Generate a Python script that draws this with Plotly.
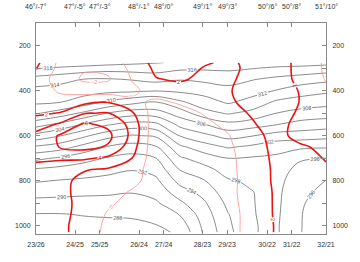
import numpy as np
import plotly.graph_objects as go

# horizontal position of grid columns (distance units along the section)
x_cols = [0, 25, 50, 75, 100, 125, 150, 175, 200, 225, 250, 275, 302]
# pressure levels (hPa)
p_levels = [275, 300, 350, 400, 450, 500, 550, 600, 650, 700, 750, 800, 850, 900, 950, 1000, 1030]

# potential temperature (K), one list per column, top -> bottom
theta_cols = [
    [319.8, 318.2, 315.1, 313.4, 312.4, 310.2, 306.8, 303.4, 299.7, 296.5, 293.8, 292.2, 290.8, 289.3, 287.9, 287.3, 287.0],
    [319.3, 317.7, 314.6, 313.2, 312.1, 309.1, 305.5, 302.1, 298.9, 295.7, 293.4, 291.9, 290.6, 289.3, 287.9, 287.3, 287.0],
    [319.1, 317.3, 313.9, 312.8, 311.1, 307.6, 303.8, 300.4, 297.3, 294.7, 293.0, 291.7, 290.4, 289.3, 288.1, 287.4, 287.0],
    [318.8, 316.9, 313.8, 312.5, 309.7, 305.9, 302.2, 298.7, 295.8, 293.8, 292.6, 291.4, 290.3, 289.3, 288.2, 287.5, 287.0],
    [318.4, 317.0, 314.1, 312.4, 308.7, 304.9, 301.2, 297.8, 295.1, 293.3, 292.1, 291.1, 290.1, 289.2, 288.3, 287.5, 287.2],
    [318.1, 317.0, 314.6, 312.1, 308.0, 305.1, 301.5, 298.3, 295.8, 294.0, 292.7, 291.6, 290.7, 289.7, 288.7, 287.9, 287.6],
    [317.8, 316.4, 314.1, 312.4, 309.7, 306.9, 304.6, 302.1, 299.6, 297.7, 296.1, 294.7, 293.1, 291.6, 290.1, 288.9, 288.25],
    [317.2, 316.3, 314.4, 312.8, 311.1, 309.3, 305.9, 303.5, 301.1, 299.0, 297.3, 295.9, 294.7, 293.7, 293.0, 292.5, 292.3],
    [317.3, 316.4, 314.7, 313.4, 312.3, 310.2, 307.4, 304.7, 302.2, 300.0, 298.9, 297.8, 297.2, 296.5, 295.9, 295.6, 295.4],
    [317.2, 316.1, 314.1, 312.8, 311.3, 309.4, 306.9, 304.1, 301.6, 299.8, 299.0, 298.3, 297.95, 297.93, 297.92, 297.9, 297.9],
    [317.0, 315.7, 313.5, 311.9, 309.7, 308.0, 306.1, 303.1, 300.8, 299.6, 299.1, 298.8, 298.6, 298.5, 298.4, 298.3, 298.3],
    [316.9, 315.5, 313.0, 311.0, 309.1, 307.3, 305.3, 303.0, 300.4, 298.3, 297.3, 296.6, 296.2, 296.1, 296.05, 296.05, 296.05],
    [316.7, 315.1, 312.5, 310.4, 308.7, 307.0, 304.9, 302.7, 300.2, 298.0, 296.9, 295.95, 295.8, 295.6, 295.5, 295.4, 295.3],
]

# second field (red contours), one list per column, top -> bottom
red_cols = [
    [2.5, 2.1, 1.0, 0.8, 1.0, 1.7, 3.0, 4.6, 5.0, 4.3, 3.5, 2.8, 2.6, 2.5, 2.4, 2.3, 2.3],
    [-0.5, -0.6, -0.8, -0.2, 0.6, 2.1, 4.3, 6.2, 6.1, 4.2, 3.2, 2.4, 2.4, 2.5, 2.5, 2.4, 2.4],
    [-1.5, -1.8, -2.3, -0.8, 1.5, 3.9, 6.3, 7.2, 6.6, 4.3, 2.1, 1.6, 1.5, 1.5, 1.4, 1.3, 1.3],
    [-1.2, -1.6, -2.2, -0.9, 1.9, 4.1, 5.6, 6.5, 5.8, 3.6, 1.8, 1.2, 0.8, 0.3, -0.2, -0.5, -0.6],
    [0.8, 0.5, 0.1, -0.4, 0.4, 2.3, 3.4, 3.5, 2.9, 2.0, 1.2, 0.6, -0.2, -0.6, -0.9, -1.0, -1.0],
    [2.6, 2.4, 1.9, 0.8, -0.3, -1.2, -1.6, -1.7, -1.6, -1.4, -1.4, -1.0, -1.2, -1.3, -1.4, -1.4, -1.4],
    [3.0, 2.8, 2.2, 1.2, 0.2, -0.6, -1.0, -1.2, -1.2, -1.1, -1.0, -0.9, -0.9, -0.9, -0.9, -0.9, -0.9],
    [2.2, 1.9, 1.6, 1.1, 0.5, 0.1, -0.4, -0.7, -0.8, -0.8, -0.8, -0.7, -0.6, -0.6, -0.6, -0.6, -0.6],
    [1.7, 1.7, 1.8, 1.9, 1.8, 1.2, 0.4, -0.1, -0.3, -0.4, -0.4, -0.4, -0.3, -0.3, -0.3, -0.3, -0.3],
    [2.4, 2.3, 2.4, 2.5, 2.4, 2.2, 1.8, 1.3, 1.0, 0.8, 0.7, 0.6, 0.5, 0.4, 0.3, 0.3, 0.3],
    [3.0, 3.0, 3.0, 3.0, 3.0, 3.0, 2.9, 2.7, 2.6, 2.5, 2.4, 2.4, 2.3, 2.3, 2.3, 2.2, 2.2],
    [1.4, 1.4, 1.5, 1.9, 1.95, 1.7, 1.2, 1.3, 2.3, 2.6, 2.6, 2.6, 2.5, 2.5, 2.5, 2.5, 2.5],
    [-0.3, -0.3, -0.1, 0.4, 0.8, 1.0, 1.1, 1.3, 1.5, 1.9, 2.2, 2.3, 2.4, 2.4, 2.4, 2.4, 2.4],
]

# axis ticks
x_tick_pos = [0, 40.7, 66.3, 107.3, 133, 173.3, 199, 240.7, 266.3, 302]
top_labels = ["46°/-7°", "47°/-5°", "47°/-3°", "48°/-1°", "48°/0°",
              "49°/1°", "49°/3°", "50°/6°", "50°/8°", "51°/10°"]
bottom_labels = ["23/26", "24/25", "25/25", "26/24", "27/24",
                 "28/23", "29/23", "30/22", "31/22", "32/21"]
p_ticks = [100, 200, 300, 400, 500, 600, 700, 800, 900, 1000]
p_tick_labels = ["", "200", "", "400", "", "600", "", "800", "", "1000"]

theta = np.array(theta_cols).T
red = np.array(red_cols).T

FONT = "Liberation Sans"
TXT = "#333333"
AX = "#8a8a8a"

fig = go.Figure()

fig.add_trace(go.Contour(
    x=x_cols, y=p_levels, z=theta,
    contours=dict(coloring="lines", start=288, end=320, size=2,
                  showlabels=True, labelfont=dict(size=5.5, color="#555555", family=FONT),
                  labelformat=".0f"),
    colorscale=[[0, "#6e6e6e"], [1, "#6e6e6e"]],
    line=dict(width=0.8, smoothing=1.0),
    showscale=False, hoverinfo="skip",
))

fig.add_trace(go.Contour(
    x=x_cols, y=p_levels, z=red,
    contours=dict(coloring="lines", start=-2, end=0, size=2,
                  showlabels=True, labelfont=dict(size=5.5, color="#ff8080", family=FONT),
                  labelformat=".0f"),
    colorscale=[[0, "#ff9a9a"], [1, "#ff9a9a"]],
    line=dict(width=0.9, smoothing=1.0),
    showscale=False, hoverinfo="skip",
))

fig.add_trace(go.Contour(
    x=x_cols, y=p_levels, z=red,
    contours=dict(coloring="lines", start=2, end=6, size=2,
                  showlabels=True, labelfont=dict(size=5.5, color="#ee0000", family=FONT),
                  labelformat=".0f"),
    colorscale=[[0, "#ee1111"], [1, "#ee1111"]],
    line=dict(width=1.6, smoothing=1.0),
    showscale=False, hoverinfo="skip",
))

# dummy trace to activate top / right axes
fig.add_trace(go.Scatter(x=[None], y=[None], xaxis="x2", yaxis="y2",
                         showlegend=False, hoverinfo="skip"))

yr = [1037, 99]
xr = [0, 302]
common_x = dict(range=xr, tickvals=x_tick_pos, ticks="inside", ticklen=4,
                tickcolor=AX, showline=True, linecolor=AX, linewidth=1,
                showgrid=False, zeroline=False, color=TXT,
                tickfont=dict(size=7, color=TXT, family=FONT))
common_y = dict(range=yr, tickvals=p_ticks, ticktext=p_tick_labels,
                ticks="inside", ticklen=4, tickcolor=AX, showline=True,
                linecolor=AX, linewidth=1, showgrid=False, zeroline=False,
                color=TXT, tickfont=dict(size=7, color=TXT, family=FONT))

# top labels as annotations above the top axis
annotations = [
    dict(x=xv, y=1, xref="x", yref="paper", text=lab, showarrow=False,
         xanchor="center", yanchor="bottom", yshift=11,
         font=dict(size=7, color=TXT, family=FONT))
    for xv, lab in zip(x_tick_pos, top_labels)
]

fig.update_layout(
    width=360, height=262,
    margin=dict(l=36, r=22, t=23, b=28),
    paper_bgcolor="white", plot_bgcolor="white",
    showlegend=False,
    xaxis=dict(**common_x, ticktext=bottom_labels, ticklabelstandoff=4),
    xaxis2=dict(**common_x, ticktext=top_labels, overlaying="x", side="top",
                anchor="y", showticklabels=False),
    yaxis=dict(**common_y, ticklabelstandoff=3),
    yaxis2=dict(**common_y, overlaying="y", side="right", anchor="x",
                ticklabelstandoff=4),
    annotations=annotations,
)

fig.write_html("out.html", config={"displayModeBar": False})
